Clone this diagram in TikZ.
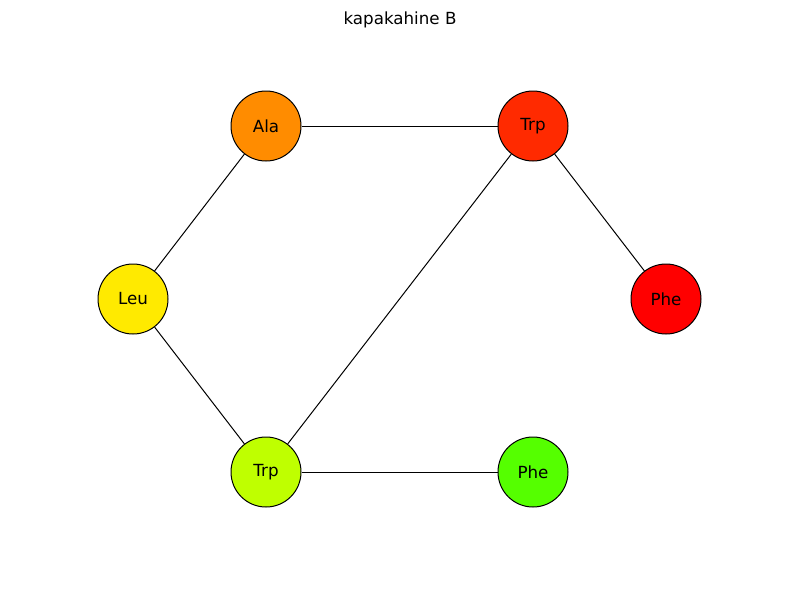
\documentclass[tikz,border=0pt]{standalone}
\usepackage{fontspec}
\setmainfont{DejaVu Sans}
\definecolor{cAla}{HTML}{FF8C00}
\definecolor{cTrpA}{HTML}{FF2A00}
\definecolor{cLeu}{HTML}{FFEA00}
\definecolor{cPheA}{HTML}{FF0000}
\definecolor{cTrpB}{HTML}{BFFF00}
\definecolor{cPheB}{HTML}{55FF00}
\begin{document}
\begin{tikzpicture}[x=1pt,y=-1pt,
  res/.style={circle,draw=black,line width=1pt,minimum size=70pt,inner sep=0pt,font=\fontsize{16.7}{19}\selectfont},
  bond/.style={draw=black,line width=1pt}]
\useasboundingbox (0,0) rectangle (800,600);
\node[font=\fontsize{16.7}{19}\selectfont] (title) at (400,20) {kapakahine B};
\node[res,fill=cAla] (ala) at (266,126) {Ala};
\node[res,fill=cTrpA] (trp1) at (533,126) {Trp};
\node[res,fill=cLeu] (leu) at (133,299) {Leu};
\node[res,fill=cPheA] (phe1) at (666,299) {Phe};
\node[res,fill=cTrpB] (trp2) at (266,472) {Trp};
\node[res,fill=cPheB] (phe2) at (533,472) {Phe};
\draw[bond] (ala) -- (trp1);
\draw[bond] (ala) -- (leu);
\draw[bond] (trp1) -- (phe1);
\draw[bond] (trp1) -- (trp2);
\draw[bond] (leu) -- (trp2);
\draw[bond] (trp2) -- (phe2);
\end{tikzpicture}
\end{document}
